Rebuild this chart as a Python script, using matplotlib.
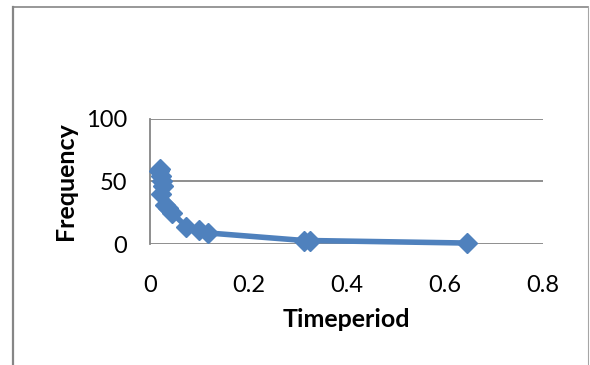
import matplotlib
matplotlib.use("Agg")
import matplotlib.pyplot as plt
from matplotlib.lines import Line2D

# Time period vs. frequency readings
timeperiod = [0.017, 0.019, 0.021, 0.022, 0.024, 0.026, 0.030, 0.036, 0.044,
              0.073, 0.098, 0.118, 0.313, 0.326, 0.645]
frequency = [58, 60, 54, 40, 50, 46, 31, 29, 25, 14, 11, 9, 3, 3, 1]

x_ticks = [0, 0.2, 0.4, 0.6, 0.8]
x_tick_labels = ["0", "0.2", "0.4", "0.6", "0.8"]
y_ticks = [0, 50, 100]
y_tick_labels = ["0", "50", "100"]

plt.rcParams["font.family"] = ["Lato", "DejaVu Sans"]

fig = plt.figure(figsize=(5.9, 3.65), dpi=100)
fig.patch.set_facecolor("white")

# Chart-area frame
W, H = 590.0, 365.0
fig.add_artist(Line2D([12.5 / W, 12.5 / W], [0, 1 - 6.5 / H], transform=fig.transFigure,
                      color="#868686", lw=1.6))
fig.add_artist(Line2D([12.5 / W, 588 / W], [1 - 6.5 / H, 1 - 6.5 / H], transform=fig.transFigure,
                      color="#868686", lw=1.2))
fig.add_artist(Line2D([588 / W, 588 / W], [0, 1 - 6.5 / H], transform=fig.transFigure,
                      color="#a6a6a6", lw=0.8))

ax = fig.add_axes([150.5 / W, 1 - 244.3 / H, (543 - 150.5) / W, (244.3 - 118.5) / H])
ax.set_xlim(0, 0.8)
ax.set_ylim(0, 100)

ax.yaxis.grid(True, color="#868686", lw=1.3)
ax.set_axisbelow(True)
for side in ("top", "right", "bottom"):
    ax.spines[side].set_visible(False)
ax.spines["left"].set_color("#868686")
ax.spines["left"].set_linewidth(1.3)

order = sorted(range(len(timeperiod)), key=lambda i: timeperiod[i])
xs = [timeperiod[i] for i in order]
ys = [frequency[i] for i in order]
ax.plot(xs, ys, color="#4f81bd", lw=4.0, marker="D", markersize=10.5,
        markeredgecolor="#4f81bd", markerfacecolor="#4f81bd", clip_on=False, zorder=3)

ax.set_xticks(x_ticks)
ax.set_xticklabels(x_tick_labels)
ax.set_yticks(y_ticks)
ax.set_yticklabels(y_tick_labels)
ax.tick_params(axis="both", length=0, labelsize=17, colors="black")
ax.tick_params(axis="x", pad=22)
ax.tick_params(axis="y", pad=17)

ax.set_xlabel("Timeperiod", fontsize=18, fontweight="bold", labelpad=9)
ax.set_ylabel("Frequency", fontsize=18, fontweight="bold", labelpad=6)

fig.savefig("out.png", dpi=100, facecolor="white")
